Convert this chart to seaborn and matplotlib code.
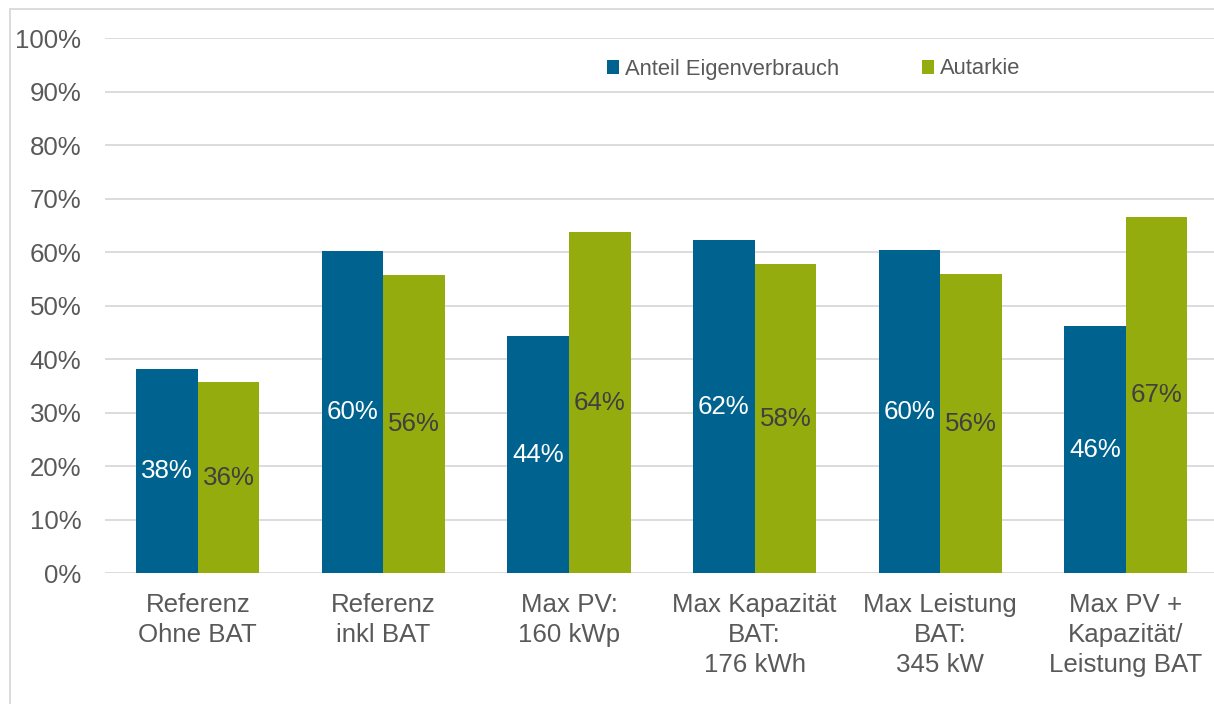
import matplotlib
matplotlib.use("Agg")
import matplotlib.pyplot as plt
from matplotlib.patches import Rectangle
from matplotlib.ticker import FuncFormatter
import pandas as pd
import seaborn as sns

# Szenarien und Kennzahlen (in Prozent)
categories = [
    "Referenz\nOhne BAT",
    "Referenz\ninkl BAT",
    "Max PV:\n160 kWp",
    "Max Kapazität\nBAT:\n176 kWh",
    "Max Leistung\nBAT:\n345 kW",
    "Max PV +\nKapazität/\nLeistung BAT",
]
series_names = ["Anteil Eigenverbrauch", "Autarkie"]
eigenverbrauch = [38.2, 60.2, 44.3, 62.3, 60.4, 46.2]
autarkie = [35.8, 55.8, 63.8, 57.8, 55.9, 66.6]
y_ticks = [0, 10, 20, 30, 40, 50, 60, 70, 80, 90, 100]

BLUE = "#00638f"
GREEN = "#95ac0e"
TEXT = "#595959"
GRID = "#d9d9d9"

df = pd.DataFrame({
    "Szenario": categories * 2,
    "Reihe": [series_names[0]] * len(categories) + [series_names[1]] * len(categories),
    "Wert": eigenverbrauch + autarkie,
})

sns.set_theme(style="white")
plt.rcParams["font.family"] = ["Liberation Sans", "DejaVu Sans"]

W, H = 1214, 704
fig = plt.figure(figsize=(W / 100, H / 100), dpi=100)
ax = fig.add_axes([105 / W, 1 - 573.3 / H, 1113.6 / W, 535 / H])

sns.barplot(
    data=df, x="Szenario", y="Wert", hue="Reihe",
    hue_order=series_names, order=categories,
    palette=[BLUE, GREEN], saturation=1, width=0.663,
    linewidth=0, ax=ax, legend=True,
)

ax.set_ylim(0, 100)
ax.set_xlim(-0.5, len(categories) - 0.5)
ax.set_yticks(y_ticks)
ax.yaxis.set_major_formatter(FuncFormatter(lambda v, _: f"{v:.0f}%"))
ax.set_axisbelow(True)
ax.yaxis.grid(True, color=GRID, linewidth=1.3)
ax.xaxis.grid(False)
for s in ax.spines.values():
    s.set_visible(False)
ax.set_xlabel("")
ax.set_ylabel("")
ax.tick_params(axis="y", length=0, pad=17, labelsize=18.6, labelcolor=TEXT)
ax.tick_params(axis="x", length=0, pad=14.2, labelsize=18.6, labelcolor=TEXT)
for lbl in ax.get_xticklabels():
    lbl.set_linespacing(1.32)

# Werte mittig in den Balken
label_colors = ["white", "#404040"]
for cont, col in zip(ax.containers, label_colors):
    ax.bar_label(cont, labels=[f"{b.get_height():.0f}%" for b in cont],
                 label_type="center", color=col, fontsize=18.6)

handles, labels = ax.get_legend_handles_labels()
ax.legend(
    handles, labels, ncol=2, frameon=False,
    loc="center left", bbox_to_anchor=(607 / W, 1 - 69 / H),
    bbox_transform=fig.transFigure,
    fontsize=15.8, labelcolor=TEXT,
    handlelength=0.55, handleheight=0.6, handletextpad=0.25,
    columnspacing=3.8, borderaxespad=0, borderpad=0,
)

# Rahmen des Diagrammbereichs
fig.patches.append(Rectangle(
    (10 / W, -0.2), 1.5, 1 - 9 / H + 0.2, transform=fig.transFigure,
    fill=False, edgecolor=GRID, linewidth=1.3, clip_on=False,
))

fig.savefig("out.png", dpi=100)
